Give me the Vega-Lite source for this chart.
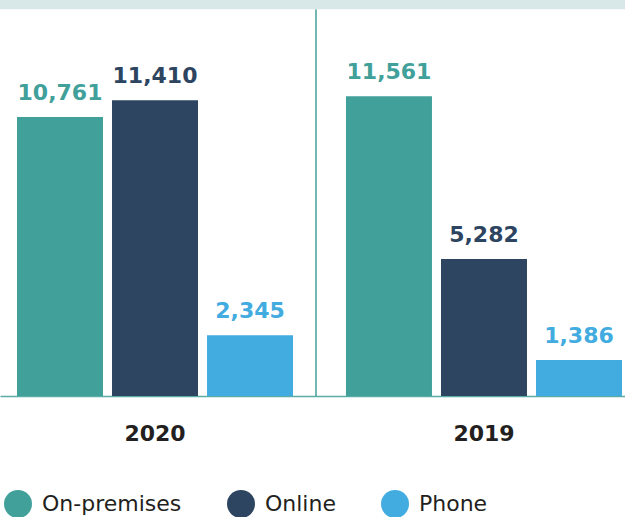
{
  "$schema": "https://vega.github.io/schema/vega-lite/v6.json",
  "width": 625,
  "height": 396,
  "padding": 0,
  "background": "white",
  "config": {"view": {"stroke": null}},
  "data": {"values": [
    {"year": "2020", "type": "On-premises", "value": 10761},
    {"year": "2020", "type": "Online", "value": 11410},
    {"year": "2020", "type": "Phone", "value": 2345},
    {"year": "2019", "type": "On-premises", "value": 11561},
    {"year": "2019", "type": "Online", "value": 5282},
    {"year": "2019", "type": "Phone", "value": 1386}
  ]},
  "layer": [
    {
      "mark": {"type": "bar"},
      "encoding": {
        "x": {
          "field": "year", "type": "nominal", "sort": ["2020", "2019"],
          "scale": {"paddingInner": 0.161, "paddingOuter": 0.0304, "align": 0.85},
          "axis": {
            "title": null, "labelAngle": 0, "ticks": false, "labelPadding": 27,
            "labelFont": "DejaVu Sans", "labelFontWeight": "bold", "labelFontSize": 22,
            "labelColor": "#231f20", "domainColor": "#5aada7", "domainWidth": 1.5
          }
        },
        "xOffset": {
          "field": "type", "type": "nominal", "sort": ["On-premises", "Online", "Phone"],
          "scale": {"paddingInner": 0.095, "paddingOuter": 0}
        },
        "y": {
          "field": "value", "type": "quantitative",
          "scale": {"domain": [0, 15278], "nice": false, "zero": true},
          "axis": null
        },
        "color": {
          "field": "type", "type": "nominal",
          "scale": {"domain": ["On-premises", "Online", "Phone"], "range": ["#41a09a", "#2d4560", "#42abe0"]},
          "legend": {
            "title": null, "orient": "bottom", "direction": "horizontal",
            "symbolType": "circle", "symbolSize": 784, "symbolStrokeWidth": 0,
            "labelFont": "DejaVu Sans", "labelFontSize": 22, "labelColor": "#231f20",
            "labelOffset": 10, "columnPadding": 45, "offset": 42, "padding": 4
          }
        }
      }
    },
    {
      "mark": {"type": "text", "baseline": "alphabetic", "dy": -17, "font": "DejaVu Sans", "fontWeight": "bold", "fontSize": 22},
      "encoding": {
        "x": {"field": "year", "type": "nominal", "sort": ["2020", "2019"]},
        "xOffset": {"field": "type", "type": "nominal", "sort": ["On-premises", "Online", "Phone"]},
        "y": {"field": "value", "type": "quantitative"},
        "text": {"field": "value", "type": "quantitative", "format": ","},
        "color": {"field": "type", "type": "nominal"}
      }
    },
    {
      "transform": [{"filter": "datum.year == '2019' && datum.type == 'On-premises'"}],
      "mark": {"type": "rule", "color": "#41a09a", "strokeWidth": 1.5, "xOffset": -30},
      "encoding": {
        "x": {"field": "year", "type": "nominal", "sort": ["2020", "2019"], "bandPosition": 0},
        "y": {"datum": 0, "type": "quantitative"},
        "y2": {"datum": 14920}
      }
    },
    {
      "transform": [{"filter": "datum.year == '2019' && datum.type == 'On-premises'"}],
      "mark": {"type": "rect", "color": "#d8e8e8"},
      "encoding": {
        "y": {"datum": 14920, "type": "quantitative"},
        "y2": {"datum": 15278}
      }
    }
  ]
}
